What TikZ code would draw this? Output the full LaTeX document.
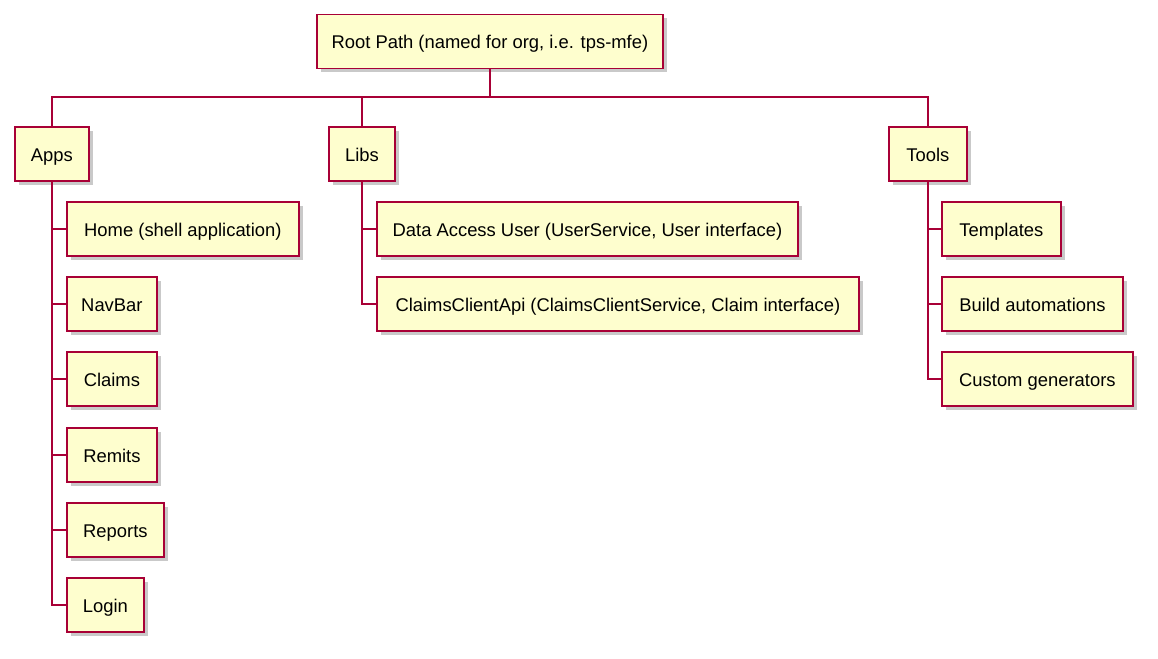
\documentclass[tikz,border=0pt]{standalone}
\usepackage{fontspec}
\setmainfont{Liberation Sans}
\usetikzlibrary{shadows}
\definecolor{pborder}{HTML}{A80036}
\definecolor{pfill}{HTML}{FEFECE}
\begin{document}
\begin{tikzpicture}[x=1pt,y=-1pt,
  wbox/.style={draw=pborder, fill=pfill, line width=1.8pt, minimum height=54pt, inner sep=0pt, anchor=west,
    font=\fontsize{18.4}{20}\selectfont, text height=16.5pt, text depth=1.5pt,
    drop shadow={shadow xshift=4pt, shadow yshift=-4pt, opacity=0.3, fill=black!70}},
  conn/.style={draw=pborder, line width=2pt}]
\useasboundingbox (0,0) rectangle (1158,658);
\coordinate (bus) at (489,97);
% level 0/1
\node[wbox, minimum width=346pt] (root) at (316,41.5) {Root Path (named for org, i.e. tps-mfe)};
\node[wbox, minimum width=74pt] (apps) at (14,154) {Apps};
\node[wbox, minimum width=66pt] (libs) at (328,154) {Libs};
\node[wbox, minimum width=78pt] (tools) at (888,154) {Tools};
% apps children
\node[wbox, minimum width=232pt] (home) at (66,229) {Home (shell application)};
\node[wbox, minimum width=90pt] (navbar) at (66,304) {NavBar};
\node[wbox, minimum width=90pt] (claims) at (66,379) {Claims};
\node[wbox, minimum width=90pt] (remits) at (66,455) {Remits};
\node[wbox, minimum width=97pt] (reports) at (66,530) {Reports};
\node[wbox, minimum width=77pt] (login) at (66,605) {Login};
% libs children
\node[wbox, minimum width=421pt] (dau) at (376,229) {Data Access User (UserService, User interface)};
\node[wbox, minimum width=482pt] (cca) at (376,304) {ClaimsClientApi (ClaimsClientService, Claim interface)};
% tools children
\node[wbox, minimum width=119pt] (templates) at (941,229) {Templates};
\node[wbox, minimum width=181pt] (build) at (941,304) {Build automations};
\node[wbox, minimum width=191pt] (custom) at (941,379) {Custom generators};
% connectors
\draw[conn] (root.south) -- (root.south |- bus);
\draw[conn] (apps.north) -- (apps.north |- bus) -- (tools.north |- bus) -- (tools.north);
\draw[conn] (libs.north) -- (libs.north |- bus);
\draw[conn] (apps.south) |- (login.west);
\foreach \c in {home,navbar,claims,remits,reports}
  \draw[conn] (apps.south |- \c.west) -- (\c.west);
\draw[conn] (libs.south) |- (cca.west);
\draw[conn] (libs.south |- dau.west) -- (dau.west);
\draw[conn] (tools.south) |- (custom.west);
\foreach \c in {templates,build}
  \draw[conn] (tools.south |- \c.west) -- (\c.west);
\end{tikzpicture}
\end{document}
